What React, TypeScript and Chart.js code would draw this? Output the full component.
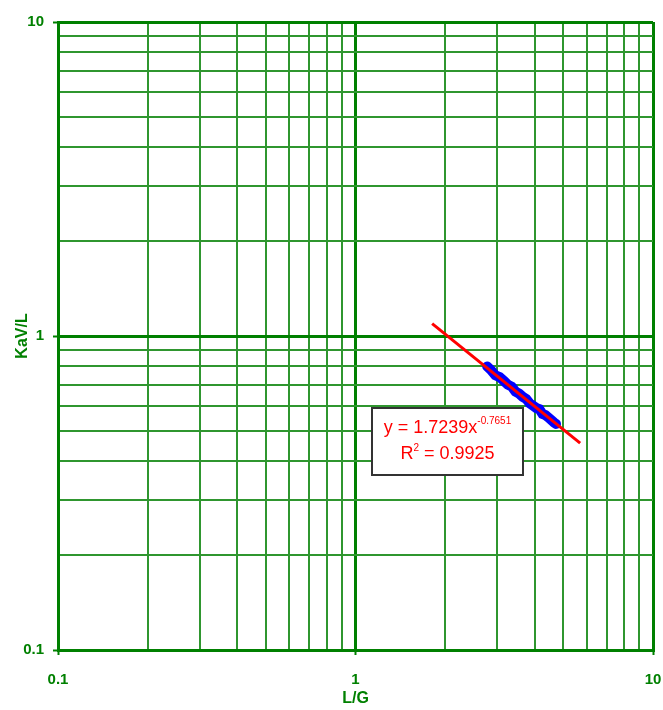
import React, { useEffect, useRef } from 'react';
import { Chart, registerables } from 'chart.js';
Chart.register(...registerables);

// measured data (L/G vs KaV/L)
const dataX = [2.77, 2.85, 2.95, 3.05, 3.15, 3.25, 3.35, 3.45, 3.55, 3.65, 3.75, 3.85, 3.95, 4.05, 4.15, 4.25, 4.35, 4.45, 4.55, 4.65, 4.72];
const dataY = [0.80, 0.78, 0.75, 0.74, 0.72, 0.70, 0.69, 0.665, 0.655, 0.64, 0.63, 0.61, 0.60, 0.59, 0.585, 0.565, 0.56, 0.55, 0.54, 0.53, 0.525];
// power trendline end points
const trendX = [1.81, 5.69];
const trendY = [1.095, 0.456];
// grid / tick values
const gridTicks = [0.1, 0.2, 0.3, 0.4, 0.5, 0.6, 0.7, 0.8, 0.9, 1, 2, 3, 4, 5, 6, 7, 8, 9, 10];
const majorTicks = [0.1, 1, 10];
const xTitle = 'L/G';
const yTitle = 'KaV/L';
const eqMain = 'y = 1.7239x';
const eqExp = '-0.7651';
const r2Label = 'R';
const r2Exp = '2';
const r2Value = ' = 0.9925';

const GREEN = '#008000';
const MINOR = '#2f962f';
const FONT = 'Liberation Sans, Arial, sans-serif';

const BOX = { left: 372, top: 408, width: 151, height: 67 };

const annotationPlugin = {
  id: 'eqBox',
  afterDatasetsDraw(chart: any) {
    const ctx = chart.ctx;
    ctx.save();
    ctx.fillStyle = '#ffffff';
    ctx.fillRect(BOX.left, BOX.top, BOX.width, BOX.height);
    ctx.strokeStyle = '#333333';
    ctx.lineWidth = 2;
    ctx.strokeRect(BOX.left, BOX.top, BOX.width, BOX.height);
    const cx = BOX.left + BOX.width / 2;
    ctx.fillStyle = '#ff0000';
    ctx.textBaseline = 'alphabetic';
    ctx.textAlign = 'left';
    const mainFont = `18px ${FONT}`;
    const supFont = `10px ${FONT}`;
    ctx.font = mainFont;
    const w1 = ctx.measureText(eqMain).width;
    ctx.font = supFont;
    const w2 = ctx.measureText(eqExp).width;
    let x = cx - (w1 + w2) / 2;
    const b1 = BOX.top + 25;
    ctx.font = mainFont;
    ctx.fillText(eqMain, x, b1);
    ctx.font = supFont;
    ctx.fillText(eqExp, x + w1, b1 - 9);
    ctx.font = mainFont;
    const wr = ctx.measureText(r2Label).width;
    const wv = ctx.measureText(r2Value).width;
    ctx.font = supFont;
    const ws = ctx.measureText(r2Exp).width;
    x = cx - (wr + ws + wv) / 2;
    const b2 = BOX.top + 51;
    ctx.font = mainFont;
    ctx.fillText(r2Label, x, b2);
    ctx.font = supFont;
    ctx.fillText(r2Exp, x + wr, b2 - 8);
    ctx.font = mainFont;
    ctx.fillText(r2Value, x + wr + ws, b2);
    ctx.restore();
  },
};

const isMajor = (v: number) => majorTicks.some((m) => Math.abs(m - v) < 1e-9);

export default function App() {
  const ref = useRef<HTMLCanvasElement | null>(null);
  useEffect(() => {
    document.body.style.margin = '0';
    const canvas = ref.current;
    if (!canvas) return;
    const gridOpts = {
      color: (c: any) => (c.tick && isMajor(c.tick.value) ? GREEN : MINOR),
      lineWidth: (c: any) => (c.tick && isMajor(c.tick.value) ? 3 : 2),
      tickColor: (c: any) => (c.tick && isMajor(c.tick.value) ? GREEN : 'rgba(0,0,0,0)'),
      tickWidth: 2,
      tickLength: 5,
      drawTicks: true,
    };
    const chart = new Chart(canvas, {
      type: 'scatter',
      data: {
        datasets: [
          {
            label: 'trend',
            data: trendX.map((v, i) => ({ x: v, y: trendY[i] })),
            showLine: true,
            borderColor: '#ff0000',
            backgroundColor: '#ff0000',
            borderWidth: 3,
            pointRadius: 0,
          },
          {
            label: 'data',
            data: dataX.map((v, i) => ({ x: v, y: dataY[i] })),
            showLine: true,
            borderColor: '#0000ff',
            backgroundColor: '#0000ff',
            borderWidth: 10,
            borderCapStyle: 'round',
            pointRadius: 0,
          },
        ],
      },
      options: {
        animation: false,
        responsive: false,
        layout: { padding: { top: 22, right: 10, left: 0, bottom: 0 } },
        plugins: { legend: { display: false }, tooltip: { enabled: false } },
        scales: {
          x: {
            type: 'logarithmic',
            min: 0.1,
            max: 10,
            afterBuildTicks: (s: any) => {
              s.ticks = gridTicks.map((v) => ({ value: v }));
            },
            afterFit: (s: any) => {
              s.height = 60;
              s.paddingLeft = 0;
              s.paddingRight = 0;
            },
            ticks: {
              autoSkip: false,
              maxRotation: 0,
              padding: 16,
              color: GREEN,
              font: { family: FONT, size: 15, weight: 'bold' },
              callback: (v: any) => (isMajor(Number(v)) ? String(v) : ''),
            },
            grid: gridOpts,
            border: { display: true, color: GREEN, width: 3 },
            title: {
              display: true,
              text: xTitle,
              color: GREEN,
              font: { family: FONT, size: 16, weight: 'bold' },
              padding: { top: 0, bottom: 2 },
            },
          },
          y: {
            type: 'logarithmic',
            min: 0.1,
            max: 10,
            afterBuildTicks: (s: any) => {
              s.ticks = gridTicks.map((v) => ({ value: v }));
            },
            afterFit: (s: any) => {
              s.width = 58;
              s.paddingTop = 0;
              s.paddingBottom = 0;
            },
            ticks: {
              autoSkip: false,
              padding: 9,
              color: GREEN,
              font: { family: FONT, size: 15, weight: 'bold' },
              callback: (v: any) => (isMajor(Number(v)) ? String(v) : ''),
            },
            grid: gridOpts,
            border: { display: true, color: GREEN, width: 3 },
            title: {
              display: true,
              text: yTitle,
              color: GREEN,
              font: { family: FONT, size: 16, weight: 'bold' },
              padding: { top: 13, bottom: 0 },
            },
          },
        },
      },
      plugins: [annotationPlugin],
    } as any);
    return () => chart.destroy();
  }, []);
  return (
    <div style={{ width: 663, height: 710, position: 'relative', background: '#ffffff' }}>
      <canvas ref={ref} width={663} height={710} style={{ display: 'block' }} />
    </div>
  );
}
